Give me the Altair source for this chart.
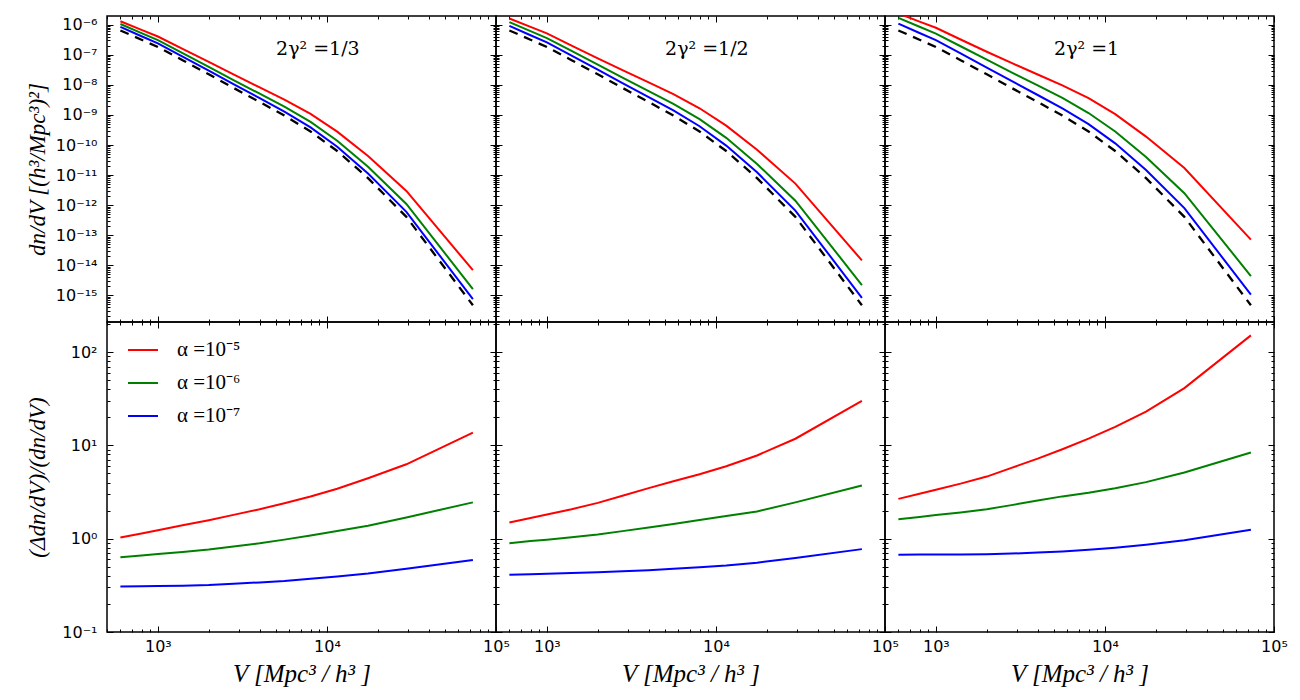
import math
import altair as alt
import pandas as pd

# ---------------- data ----------------
V = [600, 800, 1000, 1400, 2000, 2800, 4000, 5600, 8000, 11500, 17500, 29500, 73000]

alpha_labels = ["α =10⁻⁵", "α =10⁻⁶", "α =10⁻⁷"]
alpha_colors = ["#ff0000", "#008000", "#0000ff"]
gamma_notes = ["2γ² =1/3", "2γ² =1/2", "2γ² =1"]
note_V = 5000
note_y = 1e-7

# log10 of dn/dV, alpha = 0 (black dashed)
base_log10 = [-6.19, -6.50, -6.74, -7.18, -7.65, -8.10, -8.57, -9.02, -9.55, -10.20, -11.10, -12.39, -15.33]

# log10 of dn/dV for alpha = 1e-5, 1e-6, 1e-7 ; one list per panel
dndv_a5 = [
    [-5.883, -6.171, -6.392, -6.802, -7.238, -7.653, -8.083, -8.489, -8.967, -9.554, -10.364, -11.528, -14.163],
    [-5.794, -6.073, -6.290, -6.693, -7.116, -7.511, -7.919, -8.310, -8.778, -9.356, -10.156, -11.283, -13.839],
    [-5.625, -5.895, -6.102, -6.491, -6.899, -7.271, -7.656, -8.016, -8.443, -8.975, -9.720, -10.766, -13.148],
]
dndv_a6 = [
    [-5.977, -6.279, -6.514, -6.945, -7.404, -7.839, -8.293, -8.724, -9.231, -9.856, -10.724, -11.960, -14.792],
    [-5.912, -6.212, -6.444, -6.871, -7.326, -7.757, -8.205, -8.634, -9.138, -9.761, -10.629, -11.852, -14.656],
    [-5.772, -6.067, -6.294, -6.716, -7.163, -7.583, -8.019, -8.436, -8.936, -9.550, -10.398, -11.603, -14.357],
]
dndv_a7 = [
    [-6.073, -6.383, -6.622, -7.061, -7.530, -7.977, -8.443, -8.889, -9.412, -10.056, -10.947, -12.221, -15.128],
    [-6.040, -6.349, -6.587, -7.025, -7.493, -7.940, -8.406, -8.851, -9.376, -10.020, -10.909, -12.180, -15.081],
    [-5.966, -6.276, -6.515, -6.955, -7.424, -7.871, -8.337, -8.782, -9.305, -9.945, -10.830, -12.097, -14.979],
]

# relative difference (Δdn/dV)/(dn/dV)
ratio_a5 = [
    [1.03, 1.135, 1.23, 1.39, 1.58, 1.80, 2.07, 2.40, 2.83, 3.43, 4.45, 6.27, 13.7],
    [1.49, 1.67, 1.82, 2.07, 2.42, 2.88, 3.48, 4.13, 4.91, 5.98, 7.80, 11.78, 30.0],
    [2.67, 3.03, 3.35, 3.89, 4.63, 5.74, 7.21, 9.10, 11.8, 15.8, 23.0, 41.1, 151.0],
]
ratio_a6 = [
    [0.634, 0.662, 0.684, 0.719, 0.764, 0.824, 0.893, 0.977, 1.084, 1.21, 1.377, 1.69, 2.45],
    [0.895, 0.942, 0.977, 1.035, 1.109, 1.205, 1.315, 1.435, 1.585, 1.746, 1.959, 2.449, 3.72],
    [1.62, 1.71, 1.79, 1.91, 2.07, 2.29, 2.56, 2.84, 3.11, 3.47, 4.04, 5.13, 8.39],
]
ratio_a7 = [
    [0.308, 0.310, 0.312, 0.314, 0.318, 0.328, 0.340, 0.353, 0.373, 0.394, 0.424, 0.476, 0.592],
    [0.411, 0.417, 0.421, 0.428, 0.436, 0.447, 0.460, 0.475, 0.494, 0.515, 0.553, 0.622, 0.773],
    [0.674, 0.676, 0.678, 0.679, 0.682, 0.693, 0.710, 0.731, 0.759, 0.800, 0.863, 0.964, 1.245],
]

x_domain = [500, 1e5]
top_domain = [1.3e-16, 1.95e-6]
bot_domain = [0.1, 210]

x_major = [1e3, 1e4, 1e5]
top_major = [10.0 ** e for e in range(-15, -5)]
bot_major = [0.1, 1.0, 10.0, 100.0]


def minor_ticks(lo, hi, e0, e1):
    out = []
    for e in range(e0, e1 + 1):
        for k in range(2, 10):
            v = k * 10.0 ** e
            if lo <= v <= hi:
                out.append(v)
    return out


x_minor = minor_ticks(x_domain[0], x_domain[1], 2, 4) + [500.0]
top_minor = minor_ticks(top_domain[0], top_domain[1], -17, -6)
bot_minor = minor_ticks(bot_domain[0], bot_domain[1], -2, 2)

SUP = str.maketrans("-0123456789", "⁻⁰¹²³⁴⁵⁶⁷⁸⁹")


def label_expr(vals):
    expr = "''"
    for v in vals:
        e = int(round(math.log10(v)))
        expr = f"abs(datum.value / {v:.6g} - 1) < 0.001 ? '10{str(e).translate(SUP)}' : ({expr})"
    return expr


TICK_FONT = "DejaVu Sans"
MATH_FONT = "Liberation Serif"
NOTE_FONT = "DejaVu Serif"
W = 389
H_TOP = 306
H_BOT = 310


def make_axis(orient, major, major_vals, minor_vals, labels=False, title=None,
              label_padding=8, title_padding=8, title_size=23):
    size = 6 if major else 3
    d = dict(
        orient=orient,
        values=major_vals if major else minor_vals,
        tickSize=size,
        offset=-size,
        domain=False,
        grid=False,
        ticks=True,
        tickColor="black",
        tickWidth=1,
        labels=labels,
    )
    if labels:
        d.update(
            labelExpr=label_expr(major_vals),
            labelFlush=False,
            labelOverlap=False,
            labelBound=False,
            labelPadding=label_padding,
            labelFont=TICK_FONT,
            labelFontSize=16,
            labelColor="black",
        )
    if title:
        d.update(
            title=title,
            titleFont=MATH_FONT,
            titleFontStyle="italic",
            titleFontWeight="normal",
            titleFontSize=title_size,
            titleColor="black",
            titlePadding=title_padding,
        )
    else:
        d["title"] = None
    return alt.Axis(**d)


def panel(p, row):
    xs = alt.Scale(type="log", domain=x_domain, nice=False)
    if row == 0:
        ys = alt.Scale(type="log", domain=top_domain, nice=False)
        ymaj, ymin = top_major, top_minor
        ytitle = "dn/dV [(h³/Mpc³)²]" if p == 0 else None
        H = H_TOP
        s5, s6, s7 = dndv_a5[p], dndv_a6[p], dndv_a7[p]
        conv = lambda v: 10.0 ** v
    else:
        ys = alt.Scale(type="log", domain=bot_domain, nice=False)
        ymaj, ymin = bot_major, bot_minor
        ytitle = "(Δdn/dV)/(dn/dV)" if p == 0 else None
        H = H_BOT
        s5, s6, s7 = ratio_a5[p], ratio_a6[p], ratio_a7[p]
        conv = lambda v: v

    rows = []
    for name, arr in zip(alpha_labels, [s5, s6, s7]):
        for v, y in zip(V, arr):
            rows.append({"V": v, "val": conv(y), "series": name})
    df = pd.DataFrame(rows)
    base_df = pd.DataFrame({"V": V, "val": [10.0 ** b for b in base_log10]})

    xlab = row == 1
    xtitle = "V  [Mpc³ / h³ ]" if row == 1 else None

    if row == 1 and p == 0:
        legend = alt.Legend(
            orient="none", legendX=20, legendY=12, title=None,
            symbolType="stroke", symbolSize=900, symbolStrokeWidth=2,
            labelFont=MATH_FONT, labelFontSize=21, labelColor="black",
            labelOffset=18, rowPadding=7, padding=0,
        )
    else:
        legend = None

    A = alt.Chart(df).mark_line(clip=True, strokeWidth=2).encode(
        x=alt.X("V:Q", scale=xs, axis=make_axis("bottom", True, x_major, x_minor,
                                                 labels=xlab, title=xtitle,
                                                 label_padding=6, title_padding=7,
                                                 title_size=25)),
        y=alt.Y("val:Q", scale=ys, axis=make_axis("left", True, ymaj, ymin,
                                                   labels=(p == 0), title=ytitle,
                                                   label_padding=10,
                                                   title_padding=6 if row == 0 else 12)),
        color=alt.Color("series:N", scale=alt.Scale(domain=alpha_labels, range=alpha_colors),
                        legend=legend),
    )
    minor_x = make_axis("bottom", False, x_major, x_minor)
    minor_y = make_axis("left", False, ymaj, ymin)
    top_x = make_axis("top", True, x_major, x_minor)
    right_y = make_axis("right", True, ymaj, ymin)
    top_x_minor = make_axis("top", False, x_major, x_minor)
    right_y_minor = make_axis("right", False, ymaj, ymin)

    if row == 0:
        B = alt.Chart(base_df).mark_line(clip=True, strokeWidth=2.3, strokeDash=[9, 7],
                                         color="black").encode(
            x=alt.X("V:Q", scale=xs, axis=minor_x),
            y=alt.Y("val:Q", scale=ys, axis=minor_y),
        )
        note_df = pd.DataFrame({"V": [note_V], "val": [note_y], "note": [gamma_notes[p]]})
        C = alt.Chart(note_df).mark_text(align="left", baseline="alphabetic",
                                         font=NOTE_FONT, fontSize=19, color="black").encode(
            x=alt.X("V:Q", scale=xs, axis=top_x),
            y=alt.Y("val:Q", scale=ys, axis=right_y),
            text="note:N",
        )
    else:
        B = alt.Chart(df).mark_line(strokeOpacity=0).encode(
            x=alt.X("V:Q", scale=xs, axis=minor_x),
            y=alt.Y("val:Q", scale=ys, axis=minor_y),
            detail="series:N",
        )
        C = alt.Chart(df).mark_line(strokeOpacity=0).encode(
            x=alt.X("V:Q", scale=xs, axis=top_x),
            y=alt.Y("val:Q", scale=ys, axis=right_y),
            detail="series:N",
        )
    D = alt.Chart(base_df).mark_line(strokeOpacity=0).encode(
        x=alt.X("V:Q", scale=xs, axis=top_x_minor),
        y=alt.Y("val:Q", scale=ys, axis=right_y_minor),
    )
    return alt.layer(A, B, C, D).resolve_axis(x="independent", y="independent").properties(
        width=W, height=H
    )


panels = [panel(p, 0) for p in range(3)] + [panel(p, 1) for p in range(3)]

chart = alt.concat(*panels, columns=3, spacing=0, bounds="flush").resolve_legend(
    color="independent"
).configure_view(stroke="black", strokeWidth=1.5).properties(
    padding={"left": 17, "top": 6, "right": 0, "bottom": 0}
)

chart.save("out.html", embed_options={"renderer": "svg", "actions": False})
